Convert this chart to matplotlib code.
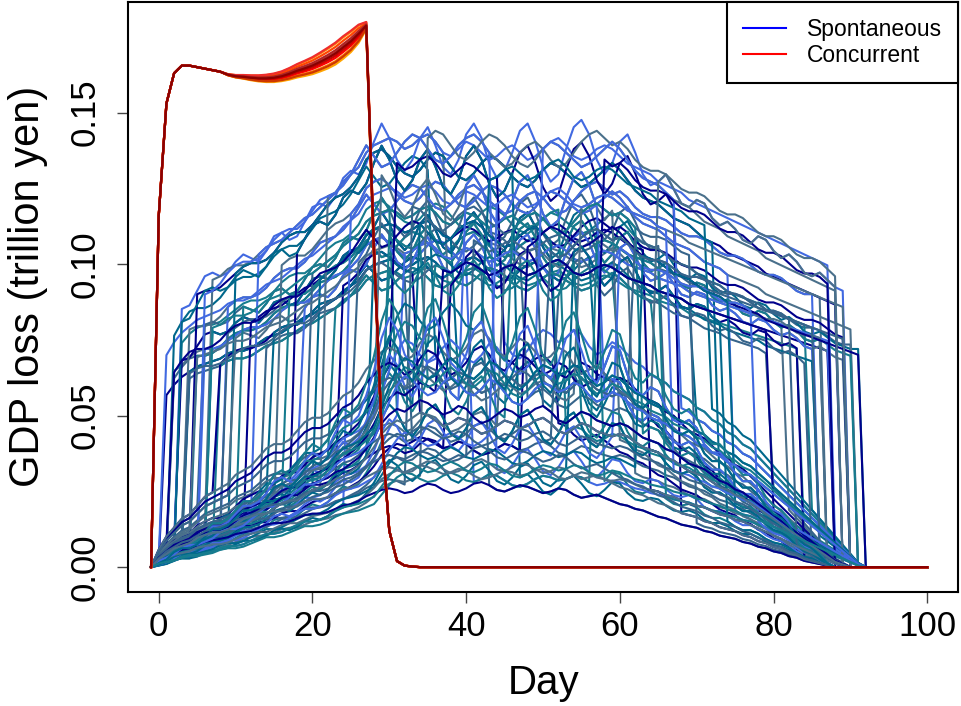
import numpy as np
import matplotlib
matplotlib.use("Agg")
import matplotlib.pyplot as plt
from matplotlib.lines import Line2D

plt.rcParams['font.family'] = ['Liberation Sans', 'DejaVu Sans']

# ---------------- data ----------------
days = list(range(-1, 101))

# typical "low" GDP-loss trajectories of spontaneous runs (days -1..100)
low_a = [0, .003, .005, .007, .008, .009, .011, .012, .013, .013, .014,
         .016, .018, .019, .020, .020, .022, .024, .025, .025, .027,
         .029, .030, .031, .033, .034, .036, .038, .041, .045, .050,
         .053, .055, .054, .056, .058, .057, .055, .053, .054, .056,
         .055, .052, .050, .051, .053, .055, .054, .052, .053, .055,
         .056, .054, .051, .050, .052, .054, .053, .051, .050, .049,
         .050, .049, .047, .045, .044, .043, .041, .040, .038, .036,
         .035, .034, .032, .030, .029, .027, .026, .024, .022, .020,
         .018, .016, .014, .012, .010, .008, .006, .004, .002, .001,
         0, 0, 0, 0, 0, 0, 0, 0, 0, 0, 0]
low_b = [0, .002, .003, .004, .006, .007, .007, .008, .009, .011, .012,
         .012, .013, .015, .017, .019, .019, .020, .022, .024, .026,
         .026, .027, .029, .032, .034, .035, .036, .038, .040, .046,
         .052, .057, .060, .059, .056, .054, .055, .058, .060, .058,
         .055, .054, .056, .059, .058, .055, .052, .051, .053, .056,
         .058, .057, .055, .056, .058, .057, .054, .052, .053, .055,
         .054, .052, .050, .049, .047, .046, .045, .043, .042, .041,
         .039, .038, .036, .035, .033, .032, .030, .029, .027, .025,
         .023, .021, .019, .017, .015, .013, .011, .009, .007, .005,
         .003, .001, 0, 0, 0, 0, 0, 0, 0, 0, 0]
low_c = [0, .004, .007, .009, .011, .012, .014, .016, .017, .018, .019,
         .021, .022, .023, .025, .027, .028, .028, .029, .031, .033,
         .034, .034, .035, .037, .039, .040, .042, .045, .047, .049,
         .050, .049, .047, .048, .051, .053, .052, .049, .047, .048,
         .050, .053, .054, .052, .049, .048, .050, .052, .051, .049,
         .047, .048, .050, .049, .046, .044, .045, .046, .044, .042,
         .040, .039, .037, .036, .034, .032, .031, .029, .027, .026,
         .025, .023, .022, .020, .019, .018, .016, .015, .013, .012,
         .010, .009, .007, .006, .004, .003, .002, .001, 0, 0,
         0, 0, 0, 0, 0, 0, 0, 0, 0, 0, 0]
low_d = [0, .001, .002, .004, .005, .005, .006, .008, .010, .010, .011,
         .013, .015, .015, .016, .018, .021, .022, .021, .023, .026,
         .028, .027, .029, .033, .036, .035, .037, .042, .048, .056,
         .061, .058, .052, .049, .053, .059, .061, .056, .050, .048,
         .052, .058, .060, .055, .049, .047, .051, .057, .059, .054,
         .048, .046, .050, .056, .058, .053, .047, .045, .049, .054,
         .053, .047, .043, .042, .044, .043, .039, .036, .035, .036,
         .034, .030, .028, .028, .026, .023, .021, .021, .019, .016,
         .014, .013, .011, .008, .006, .005, .003, .001, 0, 0,
         0, 0, 0, 0, 0, 0, 0, 0, 0, 0, 0]

# typical "high" GDP-loss trajectories (days -1..100)
high_a = [0, .060, .066, .070, .073, .075, .077, .078, .079, .080, .082,
          .083, .083, .084, .086, .088, .089, .090, .092, .094, .096,
          .097, .099, .101, .103, .106, .108, .110, .114, .116, .117,
          .118, .117, .115, .116, .118, .119, .117, .114, .113, .115,
          .117, .116, .114, .112, .113, .115, .116, .114, .112, .113,
          .115, .117, .118, .116, .113, .112, .113, .115, .116, .115,
          .113, .111, .110, .109, .108, .106, .105, .104, .103, .101,
          .100, .099, .098, .097, .096, .095, .094, .093, .092, .091,
          .090, .089, .088, .087, .086, .085, .084, .083, .082, .081,
          .080, .079, .079, .079, .079, .079, .079, .079, .079, .079, .079]
high_b = [0, .055, .062, .067, .071, .074, .075, .075, .076, .078, .081,
          .083, .084, .084, .085, .087, .090, .092, .093, .093, .095,
          .098, .101, .102, .103, .105, .108, .112, .116, .113, .110,
          .111, .114, .117, .119, .118, .115, .112, .111, .113, .116,
          .118, .119, .117, .114, .112, .110, .111, .114, .116, .117,
          .115, .112, .110, .111, .114, .117, .119, .120, .118, .116,
          .117, .115, .112, .110, .109, .109, .108, .106, .104, .103,
          .103, .102, .100, .098, .097, .097, .096, .094, .092, .091,
          .091, .090, .088, .086, .085, .085, .084, .082, .080, .079,
          .079, .078, .077, .077, .077, .077, .077, .077, .077, .077, .077]
high_c = [0, .065, .070, .072, .074, .077, .079, .080, .080, .081, .083,
          .085, .087, .088, .088, .089, .091, .094, .096, .097, .097,
          .099, .102, .105, .107, .108, .110, .113, .118, .120, .121,
          .119, .116, .114, .113, .115, .118, .120, .119, .116, .113,
          .112, .114, .117, .119, .118, .116, .113, .111, .110, .112,
          .115, .117, .116, .114, .112, .110, .111, .113, .115, .117,
          .115, .112, .109, .107, .106, .105, .103, .101, .100, .099,
          .097, .095, .094, .093, .091, .090, .089, .088, .087, .085,
          .084, .083, .082, .081, .080, .079, .078, .077, .076, .075,
          .074, .073, .072, .072, .072, .072, .072, .072, .072, .072, .072]
high_d = [0, .058, .064, .069, .071, .072, .076, .080, .081, .080, .081,
          .084, .086, .085, .084, .087, .091, .092, .090, .091, .095,
          .099, .100, .099, .102, .107, .109, .108, .111, .117, .122,
          .118, .112, .109, .112, .118, .121, .116, .110, .108, .112,
          .119, .122, .118, .111, .107, .109, .114, .120, .122, .117,
          .110, .106, .108, .115, .121, .123, .119, .112, .108, .111,
          .117, .119, .114, .108, .105, .106, .108, .104, .100, .099,
          .101, .100, .096, .094, .095, .093, .090, .089, .091, .090,
          .087, .085, .086, .084, .081, .080, .081, .079, .077, .076,
          .075, .075, .075, .075, .075, .075, .075, .075, .075, .075, .075]

# day each spontaneous run switches to the high state, and day it leaves it
switch_on = [1, 1, 2, 2, 2, 3, 3, 3, 4, 4, 4, 5, 5, 6, 6, 7, 7, 8, 8, 9,
             9, 10, 10, 11, 12, 13, 14, 15, 16, 17, 18, 19, 20, 21, 22, 23, 24, 25, 26, 3,
             5, 7, 2, 6, 4,
             28, 29, 30, 31, 32, 33, 34, 35, 36, 38, 40, 41, 43, 45, 46, 48, 50, 52, 54, 55,
             57, 58, 60, 62, 63, 65, 30, 37, 44, 51,
             999, 999, 999, 999, 999, 999, 999, 999, 999, 999, 999, 999, 999, 999, 999]
switch_off = [88, 45, 91, 36, 62, 85, 52, 90, 33, 70, 87, 58, 89, 41, 66, 92, 38, 84, 55, 86,
              48, 73, 90, 31, 64, 88, 43, 57, 91, 35, 68, 86, 50, 39, 89, 60, 34, 75, 87, 47,
              82, 53, 90, 44, 80,
              86, 60, 91, 45, 88, 70, 52, 89, 65, 84, 58, 90, 72, 87, 63, 92, 68, 85, 74, 90,
              66, 88, 78, 86, 75, 89, 55, 80, 67, 83,
              999, 999, 999, 999, 999, 999, 999, 999, 999, 999, 999, 999, 999, 999, 999]
low_scales = [0.52, 1.35, 0.8, 1.15, 0.66, 1.45, 0.95, 1.05, 0.74, 1.25, 0.88, 0.58, 1.1]
high_scales = [0.86, 1.06, 0.93, 1.14, 0.9, 1.0, 0.96, 1.2, 0.83]
blue_colors = ['#00008B', '#4169E1', '#36648B', '#00688B', '#4A708B', '#167C8E']

# concurrent runs
conc_base = [0, .116, .153, .163, .1655, .1655, .165, .1645, .164, .1635, .1625,
             .162, .1618, .1615, .1613, .1613, .1615, .162, .1628, .1638, .1646,
             .1655, .1667, .168, .1695, .1715, .1735, .176, .1787, .105, .045,
             .012, .002, .0005, .0002, 0, 0, 0, 0, 0, 0,
             0, 0, 0, 0, 0, 0, 0, 0, 0, 0, 0, 0, 0, 0, 0, 0, 0, 0, 0, 0,
             0, 0, 0, 0, 0, 0, 0, 0, 0, 0, 0, 0, 0, 0, 0, 0, 0, 0, 0, 0,
             0, 0, 0, 0, 0, 0, 0, 0, 0, 0, 0, 0, 0, 0, 0, 0, 0, 0, 0, 0, 0]
conc_spread = [0, 0, 0, 0, 0, 0, 0, 0, 0, 0, .0002,
               .0004, .0006, .0008, .001, .0012, .0014, .0016, .0019, .0022, .0025,
               .0028, .0031, .0034, .0036, .0037, .0035, .003, .0012, .002, 0,
               0, 0, 0, 0, 0, 0, 0, 0, 0, 0,
               0, 0, 0, 0, 0, 0, 0, 0, 0, 0, 0, 0, 0, 0, 0, 0, 0, 0, 0, 0,
               0, 0, 0, 0, 0, 0, 0, 0, 0, 0, 0, 0, 0, 0, 0, 0, 0, 0, 0, 0,
               0, 0, 0, 0, 0, 0, 0, 0, 0, 0, 0, 0, 0, 0, 0, 0, 0, 0, 0, 0, 0]
conc_offsets = [-1.0, 0.9, -0.7, 0.6, -0.4, 1.0, -0.2, 0.3, -0.8, 0.1, 0.0]
conc_colors = ['#FFA500', '#FF8C00', '#FF7F00', '#FF4500', '#FF0000', '#EE2C2C',
               '#CD0000', '#B22222', '#CD3700', '#A52A2A', '#8B0000']

# ---------------- plot ----------------
fig = plt.figure(figsize=(9.61, 7.06), dpi=100)
ax = fig.add_axes([128 / 961, 1 - 592 / 706, 830 / 961, 590 / 706])

d = np.array(days)
lows = [np.array(low_a), np.array(low_b), np.array(low_c), np.array(low_d)]
highs = [np.array(high_a), np.array(high_b), np.array(high_c), np.array(high_d)]
for i, (on, off) in enumerate(zip(switch_on, switch_off)):
    lo = lows[i % 4] * low_scales[i % len(low_scales)]
    hi = highs[(i // 2) % 4] * high_scales[i % len(high_scales)]
    state = (d >= on) & (d < off)
    y = np.where(state, hi, lo)
    ax.plot(d, y, color=blue_colors[i % len(blue_colors)], lw=1.5, solid_joinstyle='round')

base = np.array(conc_base)
spread = np.array(conc_spread)
for k, c in zip(conc_offsets, conc_colors):
    ax.plot(d, base + k * spread, color=c, lw=1.6)

ax.set_xlim(-4, 104)
ax.set_ylim(-0.0082, 0.1865)
ax.set_xticks([0, 20, 40, 60, 80, 100])
ax.set_yticks([0.00, 0.05, 0.10, 0.15])
ax.set_yticklabels(['0.00', '0.05', '0.10', '0.15'])
ax.tick_params(axis='both', direction='out', length=8, width=1, color='#444444',
               labelsize=25)
ax.tick_params(axis='x', pad=5)
ax.tick_params(axis='y', pad=11, labelrotation=90)
for lab in ax.get_yticklabels():
    lab.set_va('center')
for s in ax.spines.values():
    s.set_linewidth(1.5)
    s.set_color('black')

fig.text(28 / 961, 1 - 286 / 706, 'GDP loss (trillion yen)', rotation=90,
         ha='center', va='center', fontsize=30)
fig.text(544 / 961, 1 - 683 / 706, 'Day', ha='center', va='center', fontsize=29)

handles = [Line2D([], [], color='#0000FF', lw=1.5), Line2D([], [], color='#FF0000', lw=1.5)]
leg = ax.legend(handles, ['Spontaneous', 'Concurrent'], loc='upper right',
                borderaxespad=0, fancybox=False, framealpha=1, edgecolor='black',
                fontsize=16.5, handlelength=1.9, handletextpad=0.9, borderpad=0.7,
                labelspacing=0.12)
leg.get_frame().set_linewidth(1.5)

fig.savefig('out.png', dpi=100)
